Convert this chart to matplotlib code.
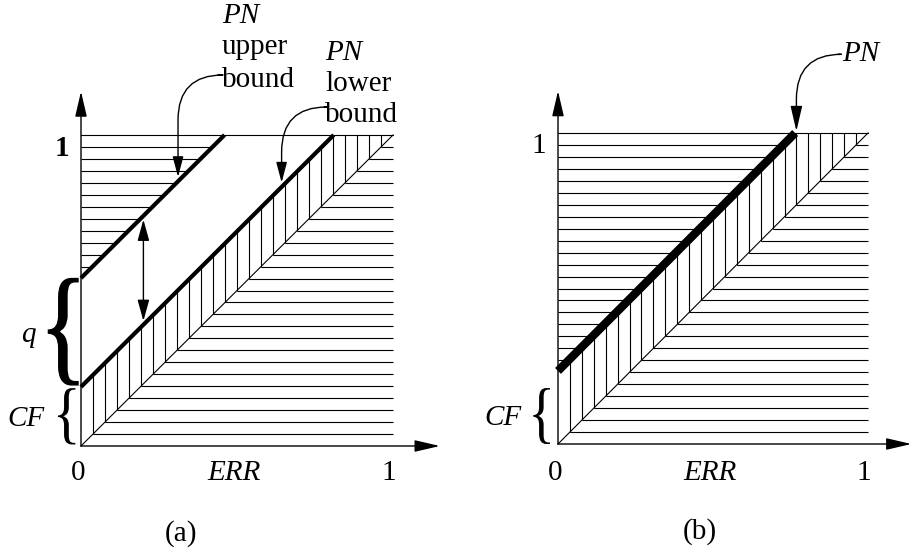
import numpy as np
import matplotlib
matplotlib.use("Agg")
import matplotlib.pyplot as plt
from matplotlib.collections import LineCollection
from matplotlib.textpath import TextPath
from matplotlib.font_manager import FontProperties
from matplotlib.patches import PathPatch
from matplotlib.transforms import Affine2D

plt.rcParams['font.family'] = ['Liberation Serif', 'DejaVu Serif']

# values
n_hatch = 26          # hatch lines per unit
cf_a = 0.19           # PN lower bound intercept (CF) in (a)
q_a = 0.35            # gap between the two bounds in (a)
pn_b = 0.235          # PN intercept in (b)
cf_b_brace = 0.18     # extent of the CF brace in (b)
gap_x = 0.20          # where the double arrow sits in (a)
tick_labels = ['0', '1']
axis_name = 'ERR'
panel_names = ['(a)', '(b)']

FS = 21


def hatch(ax, top_icpt, mid_icpt):
    # horizontal lines left of the top line and under the diagonal,
    # vertical lines between the diagonal and the mid line
    k = np.arange(1, n_hatch) / n_hatch
    segs = []
    for y in k:
        if y > top_icpt:
            segs.append([(0, y), (y - top_icpt, y)])
    for y in k:
        segs.append([(y, y), (1, y)])
    for x in k:
        segs.append([(x, x), (x, min(x + mid_icpt, 1))])
    ax.add_collection(LineCollection(segs, colors='k', linewidths=0.8, clip_on=False))
    ax.plot([0, 1], [1, 1], color='k', lw=0.8, clip_on=False)
    ax.plot([0, 1], [0, 1], color='k', lw=0.8, clip_on=False)


def axes_arrows(ax, xmax, ymax):
    st = '-|>,head_length=1.55,head_width=0.36'
    for end in [(0, ymax), (xmax, 0)]:
        ax.annotate('', xy=end, xytext=(0, 0), annotation_clip=False,
                    arrowprops=dict(arrowstyle=st, color='k', lw=1, shrinkA=0, shrinkB=0,
                                    mutation_scale=10))


def brace(ax, x0, x1, y0, y1, extra=0.0):
    tp = TextPath((0, 0), '{', size=1, prop=FontProperties(family='Liberation Serif'))
    ext = tp.get_extents()
    tr = Affine2D().translate(-ext.x0, -ext.y0).scale((x1 - x0) / ext.width, (y1 - y0) / ext.height).translate(x0, y0)
    ax.add_patch(PathPatch(tr.transform_path(tp), fc='k', ec='k', lw=extra, clip_on=False))


def callout(ax, start, tip, head=(1.25, 0.33)):
    ax.annotate('', xy=tip, xytext=start, annotation_clip=False,
                arrowprops=dict(arrowstyle='-|>,head_length=%g,head_width=%g' % head,
                                connectionstyle='angle,angleA=0,angleB=90,rad=45',
                                color='k', lw=1, shrinkA=0, shrinkB=0, mutation_scale=10))


def bottom_labels(ax, ylab, xname, name):
    ax.text(-0.01, ylab, tick_labels[0], ha='center', va='center', fontsize=FS)
    ax.text(0.49, ylab, axis_name, ha='center', va='center', fontsize=FS, style='italic')
    ax.text(0.985, ylab, tick_labels[1], ha='center', va='center', fontsize=FS)
    ax.text(xname, -0.28, name, ha='center', va='center', fontsize=FS)


fig = plt.figure(figsize=(9.1, 5.57), dpi=100)
W, H = 910, 557

# ---- panel (a)
axa = fig.add_axes([81 / W, (H - 446) / H, 312 / W, 311 / H])
axa.set_xlim(0, 1)
axa.set_ylim(0, 1)
axa.axis('off')
hatch(axa, cf_a + q_a, cf_a)
axes_arrows(axa, 1.15, 1.14)
xs = np.array([0, 1 - cf_a])
axa.plot(xs, xs + cf_a, color='k', lw=3, solid_capstyle='butt', clip_on=False)
xs = np.array([0, 1 - cf_a - q_a])
axa.plot(xs, xs + cf_a + q_a, color='k', lw=3, solid_capstyle='butt', clip_on=False)
axa.annotate('', xy=(gap_x, gap_x + cf_a + q_a - 0.012), xytext=(gap_x, gap_x + cf_a + 0.012),
             annotation_clip=False,
             arrowprops=dict(arrowstyle='<|-|>,head_length=1.3,head_width=0.36', color='k', lw=1,
                             shrinkA=0, shrinkB=0, mutation_scale=10))
brace(axa, -0.104, -0.01, cf_a + 0.007, cf_a + q_a - 0.002, extra=1.2)
brace(axa, -0.074, -0.018, 0.005, cf_a - 0.004)
axa.text(-0.17, 0.357, 'q', ha='center', va='center', fontsize=FS, style='italic')
axa.text(-0.176, 0.087, 'CF', ha='center', va='center', fontsize=FS, style='italic')
axa.text(-0.061, 0.958, '1', ha='center', va='center', fontsize=FS, fontweight='bold')
bottom_labels(axa, -0.086, 0.32, panel_names[0])
axa.text(0.452, 1.361, 'PN', fontsize=FS, style='italic', va='baseline')
axa.text(0.452, 1.262, 'upper', fontsize=FS, va='baseline')
axa.text(0.452, 1.154, 'bound', fontsize=FS, va='baseline')
callout(axa, (0.44, 1.193), (0.311, 0.311 + cf_a + q_a + 0.014))
axa.text(0.782, 1.241, 'PN', fontsize=FS, style='italic', va='baseline')
axa.text(0.782, 1.143, 'lower', fontsize=FS, va='baseline')
axa.text(0.782, 1.042, 'bound', fontsize=FS, va='baseline')
callout(axa, (0.78, 1.09), (0.643, 0.643 + cf_a + 0.014))

# ---- panel (b)
axb = fig.add_axes([558 / W, (H - 444) / H, 310 / W, 311 / H])
axb.set_xlim(0, 1)
axb.set_ylim(0, 1)
axb.axis('off')
hatch(axb, pn_b, pn_b)
axes_arrows(axb, 1.14, 1.135)
xs = np.array([0, 1 - pn_b])
axb.plot(xs, xs + pn_b, color='k', lw=6, solid_capstyle='butt', clip_on=False)
brace(axb, -0.08, -0.026, 0.0, cf_b_brace)
axb.text(-0.177, 0.085, 'CF', ha='center', va='center', fontsize=FS, style='italic')
axb.text(-0.061, 0.957, '1', ha='center', va='center', fontsize=FS)
bottom_labels(axb, -0.093, 0.458, panel_names[1])
axb.text(0.916, 1.23, 'PN', fontsize=FS, style='italic', va='baseline')
callout(axb, (0.903, 1.253), (1 - pn_b + 0.004, 1.006), head=(1.55, 0.36))

fig.savefig('out.png', dpi=100)
